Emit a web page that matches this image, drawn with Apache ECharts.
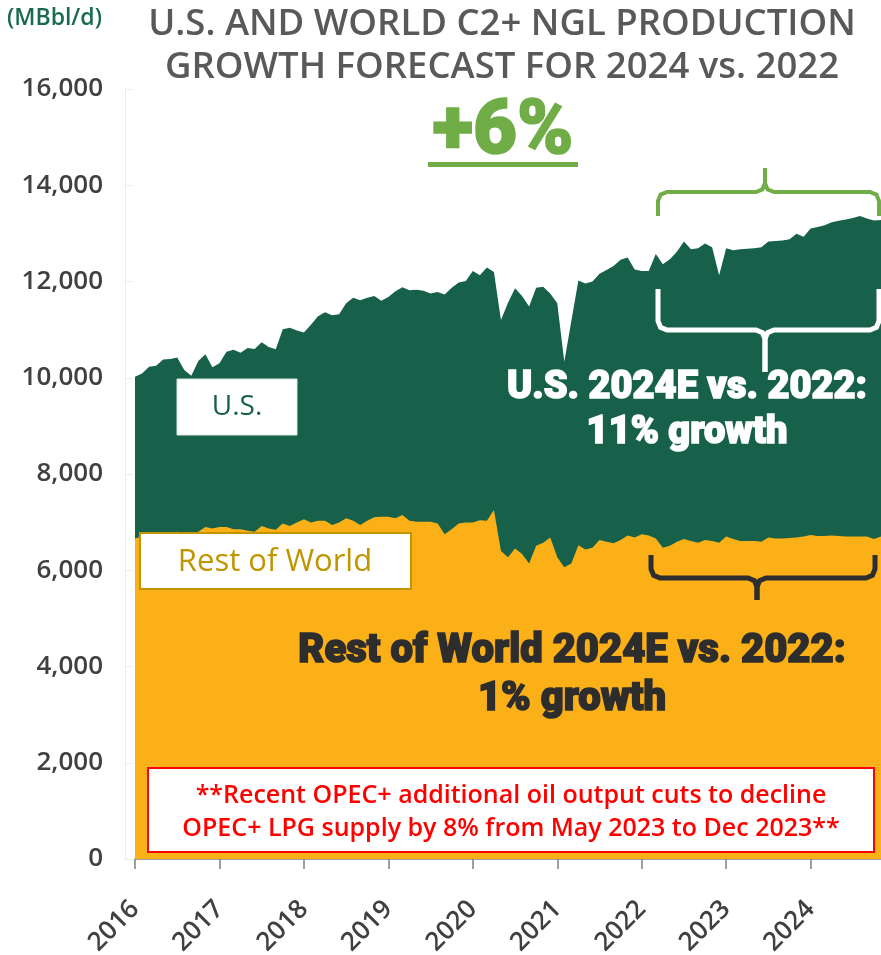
<!DOCTYPE html>
<html>
<head>
<meta charset="utf-8">
<script src="https://cdn.jsdelivr.net/npm/echarts@6/dist/echarts.min.js"></script>
<style>
  html, body { margin: 0; padding: 0; background: #fff; }
  #chart { width: 881px; height: 955px; }
</style>
</head>
<body>
<div id="chart"></div>
<script>
// year labels on the x axis (one tick per January)
const years = ['2016', '2017', '2018', '2019', '2020', '2021', '2022', '2023', '2024'];
const monthCount = 107; // Jan 2016 .. Nov 2024

// total world C2+ NGL production (top of green area), MBbl/d
const worldTotal = [
    10020, 10090, 10230, 10250, 10380, 10390, 10420, 10160, 10040, 10350, 10490, 10220,
    10300, 10540, 10580, 10520, 10620, 10600, 10740, 10640, 10590, 11010, 11040, 10980,
    10940, 11100, 11280, 11360, 11300, 11320, 11550, 11660, 11610, 11660, 11700, 11600,
    11680, 11800, 11880, 11820, 11830, 11810, 11750, 11780, 11730, 11870, 11980, 12010,
    12220, 12130, 12290, 12200, 11200, 11560, 11860, 11700, 11480, 11870, 11890, 11750,
    11550, 10330, 11180, 12020, 11960, 12000, 12160, 12240, 12320, 12450, 12500, 12250,
    12220, 12220, 12570, 12360, 12460, 12620, 12830, 12670, 12690, 12790, 12710, 12130,
    12690, 12650, 12670, 12680, 12690, 12710, 12830, 12840, 12850, 12880, 12990, 12930,
    13100, 13130, 13170, 13230, 13260, 13290, 13320, 13360, 13310, 13270, 13280
];

// rest of world production (top of orange area), MBbl/d
const restOfWorld = [
    6660, 6700, 6720, 6740, 6760, 6790, 6800, 6780, 6770, 6800, 6900, 6870,
    6900, 6900, 6850, 6850, 6820, 6800, 6920, 6870, 6840, 6970, 6920, 6990,
    7060, 6990, 7030, 7030, 6940, 6990, 7080, 7030, 6940, 7030, 7100, 7110,
    7110, 7080, 7150, 7030, 7010, 7010, 7010, 6970, 6750, 6850, 6970, 6990,
    6990, 7040, 7030, 7250, 6400, 6270, 6450, 6340, 6140, 6510, 6570, 6680,
    6270, 6060, 6140, 6520, 6430, 6470, 6630, 6590, 6560, 6630, 6720, 6680,
    6750, 6720, 6660, 6470, 6510, 6590, 6650, 6610, 6570, 6630, 6610, 6570,
    6700, 6650, 6610, 6610, 6610, 6590, 6680, 6660, 6660, 6670, 6680, 6700,
    6730, 6710, 6710, 6720, 6710, 6700, 6700, 6700, 6700, 6650, 6700
];

const yTicks = [0, 2000, 4000, 6000, 8000, 10000, 12000, 14000, 16000];

let categories = [];
years.forEach(y => {
    for (let m = 1; m <= 12; m++) {
        categories.push(y + '-' + (m < 10 ? '0' + m : m));
    }
});
categories = categories.slice(0, monthCount);

const green = '#17614b';
const gold = '#fcb017';
const lightGreen = '#70ad47';
const dark = '#2d2d2d';
const heavy = 'Roboto';

// curly brace drawn as two polylines (left half, right half)
function brace(x1, x2, xc, yEnd, yBar, yTip, color, width) {
    const d = yBar > yEnd ? 1 : -1;
    const r = 9;
    const c = 0.29;
    function half(xa, sx) {
        return [
            [xa, yEnd],
            [xa, yBar - d * r],
            [xa + sx * r * c, yBar - d * r * c],
            [xa + sx * r, yBar],
            [xc - sx * r, yBar],
            [xc - sx * r * c, yBar + d * r * c],
            [xc, yBar + d * r],
            [xc, yTip]
        ];
    }
    return [
        { type: 'polyline', shape: { points: half(x1, 1) }, style: { fill: null, stroke: color, lineWidth: width } },
        { type: 'polyline', shape: { points: half(x2, -1) }, style: { fill: null, stroke: color, lineWidth: width } }
    ];
}

// heavy text: bold face thickened with a thin outline of the same colour
function heavyText(x, y, text, size, color) {
    return {
        type: 'text', x: x, y: y,
        style: {
            text: text, align: 'center', verticalAlign: 'middle',
            fontFamily: heavy, fontWeight: 900, fontSize: size,
            fill: color, stroke: color, lineWidth: 1.6
        }
    };
}

let annotations = [
    { type: 'text', left: 7, top: 7, style: { text: '(MBbl/d)', fontFamily: 'Open Sans', fontWeight: 600, fontSize: 23, fill: '#1a6b4e' } },
    { type: 'text', x: 502, y: 25, style: { text: 'U.S. AND WORLD C2+ NGL PRODUCTION', align: 'center', verticalAlign: 'middle', fontFamily: 'Open Sans', fontWeight: 600, fontSize: 36.5, fill: '#595959' } },
    { type: 'text', x: 502, y: 68, style: { text: 'GROWTH FORECAST FOR 2024 vs. 2022', align: 'center', verticalAlign: 'middle', fontFamily: 'Open Sans', fontWeight: 600, fontSize: 36.5, fill: '#595959' } },
    heavyText(503, 134, '+6%', 76, lightGreen),
    { type: 'rect', shape: { x: 428, y: 162, width: 150, height: 5 }, style: { fill: lightGreen } },

    ...brace(658, 879, 765, 216, 192, 168, lightGreen, 4),
    ...brace(658, 879, 765, 289, 330, 372, '#fff', 5),
    ...brace(651, 875, 757, 555, 578, 600, dark, 5),

    heavyText(687, 388, 'U.S. 2024E vs. 2022:', 38, '#fff'),
    heavyText(687, 433, '11% growth', 38, '#fff'),
    heavyText(572, 652, 'Rest of World 2024E vs. 2022:', 40, dark),
    heavyText(572, 700, '1% growth', 40, dark),

    // series label boxes
    { type: 'rect', shape: { x: 177, y: 379, width: 120, height: 56 }, style: { fill: '#fff', stroke: '#d9e6e0', lineWidth: 1 } },
    { type: 'text', x: 237, y: 407, style: { text: 'U.S.', align: 'center', verticalAlign: 'middle', fontFamily: 'Open Sans', fontSize: 28, fill: '#17604a' } },
    { type: 'rect', shape: { x: 140, y: 533, width: 271, height: 56 }, style: { fill: '#fff', stroke: '#c49400', lineWidth: 2 } },
    { type: 'text', x: 275, y: 562, style: { text: 'Rest of World', align: 'center', verticalAlign: 'middle', fontFamily: 'Open Sans', fontSize: 31, fill: '#c09500' } },

    // OPEC note
    { type: 'rect', shape: { x: 148, y: 768, width: 726, height: 84 }, style: { fill: '#fff', stroke: '#ff0000', lineWidth: 2 } },
    { type: 'text', x: 511, y: 796, style: { text: '**Recent OPEC+ additional oil output cuts to decline', align: 'center', verticalAlign: 'middle', fontFamily: 'Open Sans', fontWeight: 600, fontSize: 25, fill: '#ff0000' } },
    { type: 'text', x: 511, y: 829, style: { text: 'OPEC+ LPG supply by 8% from May 2023 to Dec 2023**', align: 'center', verticalAlign: 'middle', fontFamily: 'Open Sans', fontWeight: 600, fontSize: 25, fill: '#ff0000' } }
];
// keep all annotations above the area series
annotations = annotations.map(el => Object.assign({ z: 100 }, el));

const chart = echarts.init(document.getElementById('chart'));

chart.setOption({
    animation: false,
    backgroundColor: '#fff',
    grid: { left: 135, right: 0, top: 89, bottom: 96, outerBoundsMode: 'none', containLabel: false },
    xAxis: {
        type: 'category',
        data: categories,
        boundaryGap: false,
        axisLine: { lineStyle: { color: '#808080', width: 1.5 } },
        axisTick: {
            interval: (i) => i % 12 === 0,
            length: 10,
            lineStyle: { color: '#808080', width: 1.5 }
        },
        axisLabel: {
            interval: (i) => i % 12 === 0,
            formatter: (v) => v.slice(0, 4),
            rotate: 45,
            margin: 46,
            fontFamily: 'Open Sans',
            fontWeight: 600,
            fontSize: 26,
            color: '#404040'
        },
        splitLine: { show: false }
    },
    yAxis: {
        type: 'value',
        min: yTicks[0],
        max: yTicks[yTicks.length - 1],
        interval: 2000,
        offset: 10,
        axisLine: { show: true, lineStyle: { color: '#ececec' } },
        axisTick: { show: true, inside: true, length: 8, lineStyle: { color: '#ececec' } },
        splitLine: { show: false },
        axisLabel: {
            formatter: (v) => v.toLocaleString('en-US'),
            margin: 22,
            fontFamily: 'Open Sans',
            fontWeight: 600,
            fontSize: 26,
            color: '#404040'
        }
    },
    series: [
        {
            name: 'U.S.',
            type: 'line',
            data: worldTotal,
            symbol: 'none',
            lineStyle: { width: 0 },
            areaStyle: { color: green, opacity: 1 }
        },
        {
            name: 'Rest of World',
            type: 'line',
            data: restOfWorld,
            symbol: 'none',
            lineStyle: { width: 0 },
            areaStyle: { color: gold, opacity: 1 }
        }
    ],
    graphic: annotations
});
</script>
</body>
</html>
